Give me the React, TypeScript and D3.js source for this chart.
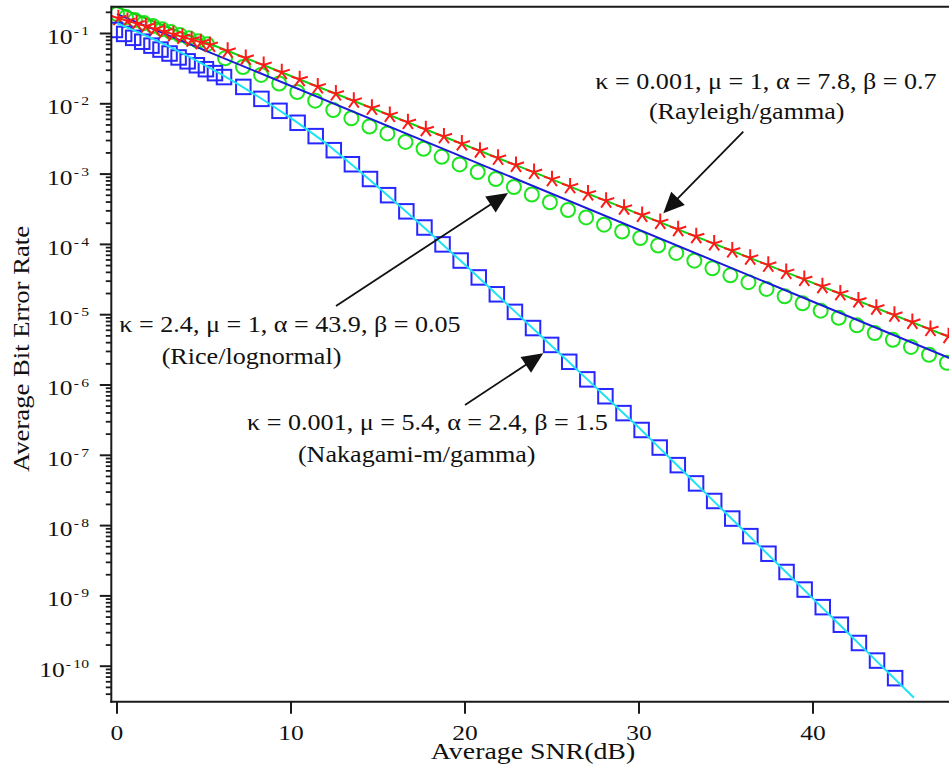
import React from 'react';
import * as d3 from 'd3';

// ---------- data (SNR in dB, BER given as log10 values) ----------
const xTickValues = [0, 10, 20, 30, 40];
const yDecadeExponents = [-1, -2, -3, -4, -5, -6, -7, -8, -9, -10];

// Nakagami-m/gamma analytical curve (cyan)
const nakagamiLineSnr = [0,1,2,3,4,5,6,7,8,9,10,11,12,13,14,15,16,17,18,19,20,21,22,23,24,25,26,27,28,29,30,31,32,33,34,35,36,37,38,39,40,41,42,43,44,45,45.8];
const nakagamiLineLogBer = [-0.855,-0.959,-1.069,-1.187,-1.311,-1.443,-1.581,-1.727,-1.879,-2.039,-2.205,-2.378,-2.559,-2.765,-2.970,-3.185,-3.400,-3.616,-3.839,-4.065,-4.289,-4.521,-4.753,-4.985,-5.217,-5.449,-5.681,-5.913,-6.145,-6.377,-6.609,-6.852,-7.095,-7.338,-7.581,-7.824,-8.067,-8.310,-8.553,-8.796,-9.039,-9.282,-9.525,-9.768,-10.011,-10.254,-10.448];

// Nakagami-m/gamma simulation (blue squares)
const nakagamiSimSnr = [-0.12,0.41,0.93,1.45,1.98,2.50,3.02,3.54,4.06,4.59,5.11,5.63,6.15,7.26,8.30,9.34,10.38,11.42,12.46,13.50,14.54,15.58,16.63,17.67,18.71,19.75,20.79,21.83,22.87,23.91,24.95,25.99,27.03,28.07,29.11,30.15,31.19,32.23,33.28,34.32,35.36,36.40,37.44,38.48,39.52,40.56,41.60,42.64,43.68,44.72];
const nakagamiSimLogBer = [-0.950,-1.006,-1.062,-1.117,-1.173,-1.229,-1.285,-1.341,-1.396,-1.452,-1.508,-1.564,-1.620,-1.76,-1.93,-2.10,-2.27,-2.46,-2.66,-2.86,-3.07,-3.30,-3.53,-3.76,-4.00,-4.23,-4.47,-4.71,-4.96,-5.19,-5.43,-5.67,-5.92,-6.16,-6.40,-6.64,-6.89,-7.14,-7.40,-7.65,-7.90,-8.15,-8.40,-8.66,-8.91,-9.16,-9.41,-9.67,-9.92,-10.17];

// Rice/lognormal analytical curve (blue line)
const riceLineSnr = [0, 48];
const riceLineLogBer = [-0.724, -5.634];

// Rice/lognormal simulation (green circles)
const riceSimSnr = [0,0.52,1.03,1.55,2.07,2.59,3.10,3.62,4.14,4.66,5.17,6.21,7.24,8.28,9.32,10.36,11.39,12.43,13.47,14.51,15.54,16.58,17.62,18.66,19.69,20.73,21.77,22.81,23.84,24.88,25.92,26.96,27.99,29.03,30.07,31.10,32.14,33.18,34.22,35.25,36.29,37.33,38.37,39.40,40.44,41.48,42.52,43.55,44.59,45.63,46.67,47.70];
const riceSimLogBer = [-0.723,-0.766,-0.809,-0.852,-0.895,-0.938,-0.980,-1.023,-1.067,-1.110,-1.152,-1.353,-1.477,-1.590,-1.711,-1.832,-1.956,-2.088,-2.206,-2.323,-2.422,-2.543,-2.640,-2.754,-2.863,-2.970,-3.070,-3.184,-3.290,-3.401,-3.511,-3.617,-3.720,-3.817,-3.909,-4.016,-4.122,-4.232,-4.339,-4.440,-4.538,-4.634,-4.738,-4.839,-4.943,-5.044,-5.151,-5.260,-5.357,-5.459,-5.570,-5.684];

// Rayleigh/gamma analytical curve (green line)
const rayleighLineSnr = [0, 48];
const rayleighLineLogBer = [-0.623, -5.334];

// Rayleigh/gamma simulation (red stars)
const rayleighSimSnr = [0.08,0.60,1.13,1.66,2.18,2.71,3.24,3.76,4.29,4.82,5.34,6.36,7.40,8.43,9.47,10.50,11.54,12.58,13.61,14.65,15.68,16.72,17.75,18.79,19.82,20.86,21.90,22.93,23.97,25.00,26.04,27.07,28.11,29.14,30.18,31.22,32.25,33.29,34.32,35.36,36.39,37.43,38.46,39.50,40.54,41.57,42.61,43.64,44.68,45.71,46.75,47.79];
const rayleighSimLogBer = [-0.784,-0.822,-0.860,-0.898,-0.936,-0.974,-1.012,-1.050,-1.088,-1.126,-1.164,-1.247,-1.348,-1.449,-1.551,-1.652,-1.754,-1.855,-1.957,-2.058,-2.160,-2.261,-2.363,-2.464,-2.566,-2.667,-2.769,-2.870,-2.972,-3.073,-3.175,-3.276,-3.378,-3.479,-3.581,-3.682,-3.784,-3.885,-3.987,-4.088,-4.190,-4.291,-4.393,-4.494,-4.596,-4.697,-4.799,-4.900,-5.002,-5.103,-5.205,-5.306];

// Annotations
const annotationLines = [
  ['κ = 0.001, μ = 1, α = 7.8, β = 0.7', '(Rayleigh/gamma)'],
  ['κ = 2.4, μ = 1, α = 43.9, β = 0.05', '(Rice/lognormal)'],
  ['κ = 0.001, μ = 5.4, α = 2.4, β = 1.5', '(Nakagami-m/gamma)'],
];

const xAxisTitle = 'Average SNR(dB)';
const yAxisTitle = 'Average Bit Error Rate';

// ---------- layout ----------
const W = 949;
const H = 769;
const PL = 111.3;
const PR = 960;
const PT = 6.7;
const PB = 701.7;
const FONT = "'Liberation Serif', 'Times New Roman', serif";
const SX = 1.16;

const x = d3.scaleLinear().domain([-0.345, 48.45]).range([117 - 0.345 * 17.4, 117 + 48.45 * 17.4]);
const y = d3.scaleLog().domain([Math.pow(10, -10.505), Math.pow(10, -0.619)]).range([PB, PT]);

const toPts = (s: number[], l: number[]) => s.map((v, i) => [x(v), y(Math.pow(10, l[i]))] as [number, number]);
const line = d3.line<[number, number]>().x(d => d[0]).y(d => d[1]);

function starPath(r: number) {
  let p = '';
  for (let k = 0; k < 5; k++) {
    const a = (-90 + k * 72) * Math.PI / 180;
    p += `M0,0L${(r * Math.cos(a)).toFixed(2)},${(r * Math.sin(a)).toFixed(2)}`;
  }
  return p;
}

function Arrow({ x1, y1, x2, y2 }: { x1: number; y1: number; x2: number; y2: number }) {
  const dx = x2 - x1, dy = y2 - y1;
  const L = Math.hypot(dx, dy);
  const ux = dx / L, uy = dy / L;
  const hl = 21, hw = 9.5;
  const bx = x2 - ux * hl, by = y2 - uy * hl;
  const p1 = [bx - uy * hw, by + ux * hw];
  const p2 = [bx + uy * hw, by - ux * hw];
  return (
    <g>
      <line x1={x1} y1={y1} x2={bx + ux * 2} y2={by + uy * 2} stroke="#111" strokeWidth={1.8} />
      <polygon points={`${x2},${y2} ${p1[0]},${p1[1]} ${p2[0]},${p2[1]}`} fill="#111" />
    </g>
  );
}

function Txt({ x: tx, y: ty, children, size = 22.5, anchor = 'middle', rotate = 0 }: any) {
  return (
    <text transform={`translate(${tx},${ty}) rotate(${rotate}) scale(${SX},1)`} textAnchor={anchor}
      fontFamily={FONT} fontSize={size} fill="#111">{children}</text>
  );
}

export default function App() {
  const minorTicks: number[] = [];
  for (let e = -11; e <= -1; e++) {
    for (let m = 2; m <= 9; m++) {
      const v = m * Math.pow(10, e);
      const py = y(v);
      if (py >= PT && py <= PB) minorTicks.push(v);
    }
  }
  const nakLine = toPts(nakagamiLineSnr, nakagamiLineLogBer);
  const nakSim = toPts(nakagamiSimSnr, nakagamiSimLogBer);
  const riceLine = toPts(riceLineSnr, riceLineLogBer);
  const riceSim = toPts(riceSimSnr, riceSimLogBer);
  const rayLine = toPts(rayleighLineSnr, rayleighLineLogBer);
  const raySim = toPts(rayleighSimSnr, rayleighSimLogBer);
  const star = starPath(8.5);
  const sq = 14.5;

  return (
    <div>
      <style>{`body{margin:0;background:#fff}`}</style>
      <svg width={W} height={H} style={{ display: 'block' }}>
        <defs>
          <clipPath id="plotClip">
            <rect x={PL} y={PT} width={PR - PL} height={PB - PT} />
          </clipPath>
        </defs>
        <rect width={W} height={H} fill="#fff" />
        <g clipPath="url(#plotClip)">
          {riceSim.map((p, i) => (
            <circle key={'c' + i} cx={p[0]} cy={p[1]} r={7} fill="none" stroke="#1ee61e" strokeWidth={2} />
          ))}
          <path d={line(riceLine) || ''} fill="none" stroke="#1a1ad8" strokeWidth={2} />
          <path d={line(rayLine) || ''} fill="none" stroke="#10d010" strokeWidth={2} />
          {raySim.map((p, i) => (
            <path key={'s' + i} d={star} transform={`translate(${p[0]},${p[1]})`} fill="none" stroke="#ff1a1a" strokeWidth={2} />
          ))}
          {nakSim.map((p, i) => (
            <rect key={'q' + i} x={p[0] - sq / 2} y={p[1] - sq / 2} width={sq} height={sq} fill="none" stroke="#2727ff" strokeWidth={2} />
          ))}
          <path d={line(nakLine) || ''} fill="none" stroke="#1ee3f2" strokeWidth={2} />
        </g>

        {/* axes frame */}
        <line x1={PL} y1={PT} x2={W + 20} y2={PT} stroke="#1a1a1a" strokeWidth={2} />
        <line x1={PL} y1={PT - 1} x2={PL} y2={PB + 1} stroke="#1a1a1a" strokeWidth={2} />
        <line x1={PL - 1} y1={PB} x2={W + 20} y2={PB} stroke="#1a1a1a" strokeWidth={2} />

        {/* x ticks */}
        {xTickValues.map(v => (
          <g key={'xt' + v}>
            <line x1={x(v)} y1={PB} x2={x(v)} y2={PB + 12} stroke="#1a1a1a" strokeWidth={2} />
            <Txt x={x(v)} y={740} size={22}>{String(v)}</Txt>
          </g>
        ))}

        {/* y ticks */}
        {minorTicks.map((v, i) => (
          <line key={'ym' + i} x1={PL - 5.5} y1={y(v)} x2={PL} y2={y(v)} stroke="#1a1a1a" strokeWidth={1.8} />
        ))}
        {yDecadeExponents.map(e => {
          const py = y(Math.pow(10, e));
          return (
            <g key={'yd' + e}>
              <line x1={PL - 11.5} y1={py} x2={PL} y2={py} stroke="#1a1a1a" strokeWidth={2} />
              <text transform={`translate(89,${py + 10.5}) scale(${SX},1)`} textAnchor="end" fontFamily={FONT} fontSize={22} fill="#111">
                <tspan>10</tspan>
                <tspan dx={1} dy={-9} fontSize={13.5}>-</tspan>
                <tspan dx={2} fontSize={13.5}>{String(-e)}</tspan>
              </text>
            </g>
          );
        })}

        {/* axis titles */}
        <Txt x={533} y={759} size={24}>{xAxisTitle}</Txt>
        <Txt x={29} y={349} rotate={-90} size={23}>{yAxisTitle}</Txt>

        {/* annotations */}
        <Txt x={766} y={88.5}>{annotationLines[0][0]}</Txt>
        <Txt x={746.7} y={118.5}>{annotationLines[0][1]}</Txt>
        <Arrow x1={743.3} y1={131.7} x2={663.3} y2={213.3} />

        <Txt x={290} y={332}>{annotationLines[1][0]}</Txt>
        <Txt x={251.5} y={363.5}>{annotationLines[1][1]}</Txt>
        <Arrow x1={336} y1={306} x2={508} y2={193} />

        <Txt x={427.5} y={430}>{annotationLines[2][0]}</Txt>
        <Txt x={416.7} y={461.7}>{annotationLines[2][1]}</Txt>
        <Arrow x1={465} y1={405} x2={543.3} y2={353.3} />
      </svg>
    </div>
  );
}
